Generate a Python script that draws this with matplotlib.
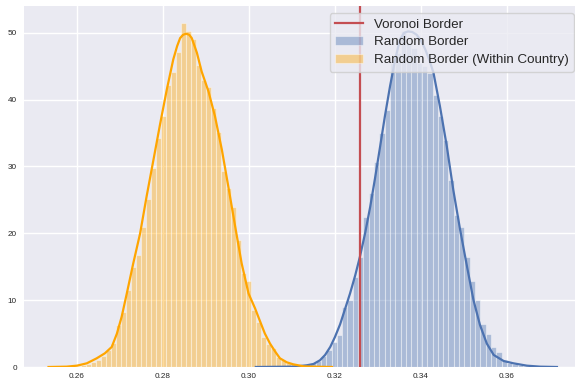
import matplotlib
matplotlib.use("Agg")
import matplotlib.pyplot as plt
import numpy as np

plt.rcParams['font.family'] = ['Liberation Sans', 'DejaVu Sans']

# histogram bin ranges (data min / max) and bar heights (density)
blue_range = [0.3056, 0.3674]
blue_heights = [0.05, 0.05, 0.1, 0.1, 0.15, 0.2, 0.45, 0.6, 0.9, 1.65,
                2.5, 3.8, 4.8, 9.0, 10.0, 13.5, 16.5, 22.5, 26.1, 30.7,
                35.0, 38.5, 45.5, 47.0, 50.2, 48.4, 47.7, 45.5, 45.0, 44.0,
                40.7, 37.5, 34.0, 28.0, 22.8, 21.0, 16.5, 12.8, 10.0, 6.5,
                5.0, 3.0, 2.3, 1.05, 0.55, 0.4, 0.25, 0.15, 0.1, 0.05]

orange_range = [0.2574, 0.3155]
orange_heights = [0.05, 0.1, 0.15, 0.3, 0.5, 0.7, 1.0, 1.6, 2.5, 3.6,
                  6.3, 8.3, 11.5, 15.0, 16.8, 21.0, 25.2, 29.7, 34.2, 37.5,
                  42.2, 44.2, 47.1, 51.4, 50.2, 49.0, 45.2, 43.0, 41.9, 38.7,
                  35.1, 29.3, 26.8, 24.0, 19.0, 14.0, 12.8, 8.5, 6.8, 4.5,
                  3.5, 2.8, 1.5, 1.0, 0.6, 0.4, 0.2, 0.1, 0.05, 0.03]

# kde curves
blue_kde_x = [0.3016, 0.3103, 0.3134, 0.3150, 0.3165, 0.3177, 0.3189, 0.3200,
              0.3212, 0.3224, 0.3235, 0.3247, 0.3258, 0.3270, 0.3282, 0.3293,
              0.3305, 0.3316, 0.3328, 0.3340, 0.3351, 0.3361, 0.3370, 0.3380,
              0.3390, 0.3400, 0.3410, 0.3420, 0.3429, 0.3444, 0.3460, 0.3475,
              0.3491, 0.3507, 0.3522, 0.3537, 0.3553, 0.3569, 0.3592, 0.3615,
              0.3646, 0.3677, 0.3716]
blue_kde_y = [0.0, 0.05, 0.25, 0.45, 1.0, 1.8, 3.0, 4.5,
              6.4, 8.8, 11.0, 13.7, 16.5, 20.0, 24.0, 28.2,
              33.0, 37.5, 42.0, 46.0, 49.0, 50.0, 50.2, 50.1,
              49.7, 48.8, 47.5, 45.8, 44.0, 39.0, 33.0, 26.5,
              20.5, 15.0, 10.0, 6.3, 3.5, 1.8, 0.9, 0.55,
              0.2, 0.05, 0.0]

orange_kde_x = [0.2534, 0.2576, 0.2600, 0.2623, 0.2646, 0.2665, 0.2681, 0.2693,
                0.2704, 0.2716, 0.2731, 0.2747, 0.2762, 0.2778, 0.2793, 0.2809,
                0.2824, 0.2833, 0.2840, 0.2847, 0.2854, 0.2861, 0.2867, 0.2879,
                0.2890, 0.2906, 0.2921, 0.2937, 0.2952, 0.2968, 0.2983, 0.2999,
                0.3014, 0.3026, 0.3037, 0.3049, 0.3061, 0.3072, 0.3088, 0.3103,
                0.3127, 0.3150, 0.3193]
orange_kde_y = [0.0, 0.05, 0.2, 0.55, 1.3, 2.05, 3.0, 5.0,
                7.5, 11.0, 15.5, 20.0, 25.5, 31.0, 36.2, 41.5,
                46.0, 48.0, 49.2, 49.7, 49.85, 49.7, 49.2, 47.0,
                44.2, 41.2, 37.5, 32.5, 27.0, 21.0, 15.5, 11.0,
                8.8, 6.8, 5.0, 3.5, 2.3, 1.3, 0.7, 0.4,
                0.1, 0.05, 0.0]

voronoi_value = 0.3258
labels = ["Voronoi Border", "Random Border", "Random Border (Within Country)"]
xticks = [0.26, 0.28, 0.30, 0.32, 0.34, 0.36]
yticks = [0, 10, 20, 30, 40, 50]

BLUE = '#4C72B0'
ORANGE = 'orange'
RED = '#C44E52'

fig = plt.figure(figsize=(5.75, 3.9), dpi=100)
ax = fig.add_axes([24 / 575, 23 / 390, 551 / 575, 361 / 390])
ax.set_facecolor('#EAEAF2')
for s in ax.spines.values():
    s.set_visible(False)
ax.grid(True, color='white', linewidth=1.0)
ax.set_axisbelow(True)


def draw_hist(rng, heights, color):
    edges = np.linspace(rng[0], rng[1], len(heights) + 1)
    return ax.bar(edges[:-1], heights, width=np.diff(edges), align='edge',
                  color=color, alpha=0.4, edgecolor='white', linewidth=0.8)


blue_bars = draw_hist(blue_range, blue_heights, BLUE)
ax.plot(blue_kde_x, blue_kde_y, color=BLUE, lw=1.6)
orange_bars = draw_hist(orange_range, orange_heights, ORANGE)
ax.plot(orange_kde_x, orange_kde_y, color=ORANGE, lw=1.6)
vline = ax.axvline(voronoi_value, color=RED, lw=1.6)

ax.set_xlim(0.2477, 0.3758)
ax.set_ylim(0, 54.0)
ax.set_xticks(xticks)
ax.set_xticklabels(['%.2f' % t for t in xticks])
ax.set_yticks(yticks)
ax.tick_params(axis='both', length=0, labelsize=5.9, colors='.15')
ax.tick_params(axis='x', pad=4.3)
ax.tick_params(axis='y', pad=5.2)

leg = ax.legend([vline, blue_bars, orange_bars], labels,
                loc='upper right', bbox_to_anchor=(0.998, 0.981),
                borderaxespad=0, fontsize=9.6, framealpha=0.8,
                facecolor='#EAEAF2', edgecolor='0.8',
                labelspacing=0.42, borderpad=0.4, handlelength=2.1)
for t in leg.get_texts():
    t.set_color('.15')

fig.savefig('out.png', dpi=100)
